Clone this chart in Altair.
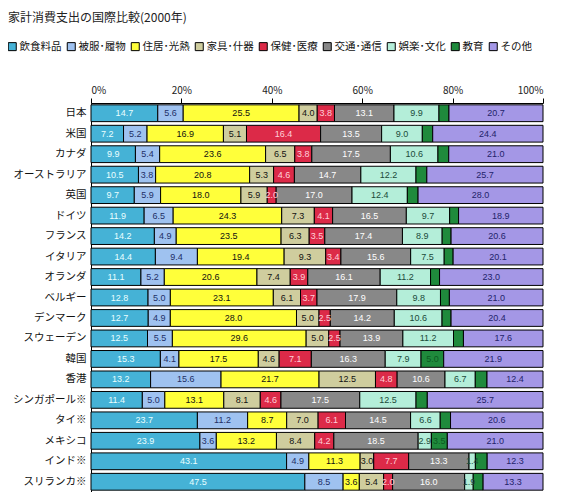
import altair as alt
import pandas as pd

countries = ["日本", "米国", "カナダ", "オーストラリア", "英国", "ドイツ", "フランス", "イタリア",
             "オランダ", "ベルギー", "デンマーク", "スウェーデン", "韓国", "香港", "シンガポール※",
             "タイ※", "メキシコ", "インド※", "スリランカ※"]

categories = ["飲食料品", "被服･履物", "住居･光熱", "家具･什器", "保健･医療",
              "交通･通信", "娯楽･文化", "教育", "その他"]

food      = [14.7, 7.2, 9.9, 10.5, 9.7, 11.9, 14.2, 14.4, 11.1, 12.8, 12.7, 12.5, 15.3, 13.2, 11.4, 23.7, 23.9, 43.1, 47.5]
clothing  = [5.6, 5.2, 5.4, 3.8, 5.9, 6.5, 4.9, 9.4, 5.2, 5.0, 4.9, 5.5, 4.1, 15.6, 5.0, 11.2, 3.6, 4.9, 8.5]
housing   = [25.5, 16.9, 23.6, 20.8, 18.0, 24.3, 23.5, 19.4, 20.6, 23.1, 28.0, 29.6, 17.5, 21.7, 13.1, 8.7, 13.2, 11.3, 3.6]
furniture = [4.0, 5.1, 6.5, 5.3, 5.9, 7.3, 6.3, 9.3, 7.4, 6.1, 5.0, 5.0, 4.6, 12.5, 8.1, 7.0, 8.4, 3.0, 5.4]
health    = [3.8, 16.4, 3.8, 4.6, 2.0, 4.1, 3.5, 3.4, 3.9, 3.7, 2.5, 2.5, 7.1, 4.8, 4.6, 6.1, 4.2, 7.7, 2.0]
transport = [13.1, 13.5, 17.5, 14.7, 17.0, 16.5, 17.4, 15.6, 16.1, 17.9, 14.2, 13.9, 16.3, 10.6, 17.5, 14.5, 18.5, 13.3, 16.0]
leisure   = [9.9, 9.0, 10.6, 12.2, 12.4, 9.7, 8.9, 7.5, 11.2, 9.8, 10.6, 11.2, 7.9, 6.7, 12.5, 6.6, 2.9, 1.4, 1.9]
education = [2.2, 2.3, 2.4, 2.4, 2.4, 2.0, 2.0, 2.0, 2.0, 2.0, 2.0, 2.2, 5.0, 2.6, 2.5, 2.3, 3.5, 2.6, 2.2]
other     = [20.7, 24.4, 21.0, 25.7, 28.0, 18.9, 20.6, 20.1, 23.0, 21.0, 20.4, 17.6, 21.9, 12.4, 25.7, 20.6, 21.0, 12.3, 13.3]

series = [food, clothing, housing, furniture, health, transport, leisure, education, other]

fill_colors = ["#45b2d6", "#9fc2f0", "#ffff3a", "#cfcd9e", "#dc2a48",
               "#888888", "#b4eed9", "#1f8a3c", "#a497e6"]
text_colors = ["#eaffff", "#1e2f66", "#111111", "#111111", "#ffd0d8",
               "#ffffff", "#1a4a3a", "#0c5a22", "#23236a"]

rows = []
for ci, (cat, vals) in enumerate(zip(categories, series)):
    for country, v in zip(countries, vals):
        rows.append({"country": country, "category": cat, "order": ci, "value": v})
df = pd.DataFrame(rows)

FONT = "Noto Sans CJK JP"

base = alt.Chart(df).transform_joinaggregate(
    total="sum(value)", groupby=["country"]
).transform_stack(
    stack="value", groupby=["country"], as_=["v0", "v1"],
    sort=[alt.SortField("order", order="ascending")]
).transform_calculate(
    x0="datum.v0 / datum.total * 100",
    x1="datum.v1 / datum.total * 100",
    xm="(datum.v0 + datum.v1) / 2 / datum.total * 100",
    lbl="format(datum.value, '.1f')",
)

yenc = alt.Y("country:N", sort=countries, title=None,
             scale=alt.Scale(paddingInner=0.18, paddingOuter=0.09),
             axis=alt.Axis(labelFont=FONT, labelFontSize=10.5, labelColor="#111",
                           ticks=False, labelPadding=5, domainColor="#000",
                           domainWidth=1))

bars = base.mark_bar(stroke="#000", strokeWidth=1).encode(
    x=alt.X("x0:Q", scale=alt.Scale(domain=[0, 100], nice=False),
            title=None,
            axis=alt.Axis(orient="top", values=[0, 20, 40, 60, 80, 100],
                          labelExpr="datum.value + '%'", grid=False,
                          labelFont=FONT, labelFontSize=10, labelColor="#222",
                          tickColor="#000", tickSize=5, domainColor="#000",
                          labelPadding=3)),
    x2="x1:Q",
    y=yenc,
    color=alt.Color("category:N", sort=categories,
                    scale=alt.Scale(domain=categories, range=fill_colors),
                    legend=alt.Legend(title=None, orient="none", direction="horizontal",
                                      legendX=-84, legendY=-62,
                                      symbolType="square", symbolSize=64,
                                      symbolStrokeColor="#000", symbolStrokeWidth=1,
                                      labelFont=FONT, labelFontSize=10.5,
                                      labelColor="#111", labelOffset=2,
                                      columnPadding=3)),
)

labels = base.transform_filter(
    "datum.value >= 1.2 && (datum.category != '教育' || datum.value >= 3)"
).mark_text(
    fontSize=9, font="Liberation Sans", baseline="middle", align="center"
).encode(
    x=alt.X("xm:Q"),
    y=alt.Y("country:N", sort=countries),
    text="lbl:N",
    color=alt.Color("category:N", sort=categories,
                    scale=alt.Scale(domain=categories, range=text_colors),
                    legend=None),
)

chart = alt.layer(bars, labels).resolve_scale(color="independent").properties(
    width=452, height=389,
    autosize=alt.AutoSizeParams(type="none"),
    padding={"left": 83, "top": 95, "right": 16, "bottom": 0},
    title=alt.TitleParams("家計消費支出の国際比較(2000年)", anchor="start",
                          font=FONT, fontSize=12, fontWeight="normal",
                          color="#222", dx=1, dy=-12),
).configure_view(stroke=None)

chart.save("out.html", embed_options={"renderer": "svg", "actions": False})
